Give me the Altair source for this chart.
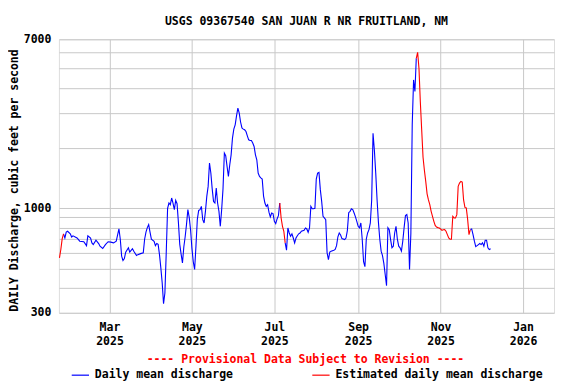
import altair as alt
import pandas as pd

FONT = "DejaVu Sans Mono"
START = "2025-01-23"

# day offsets from START and daily mean discharge (cfs)
day_offset = [0, 1, 2, 3, 4, 5, 6, 8, 9, 10, 13, 15, 18, 20, 21, 23, 24, 25, 27, 29,
              30, 32, 34, 36, 38, 40, 42, 44, 45, 46, 47, 48, 49, 51, 52, 54, 55, 57, 58, 60,
              62, 63, 64, 65, 66, 67, 68, 70, 71, 72, 73, 74, 75, 76, 77, 78, 79, 80, 81, 82,
              83, 84, 85, 86, 87, 88, 89, 90, 91, 92, 93, 94, 95, 96, 97, 98, 99, 100, 101, 102,
              103, 104, 105, 106, 107, 108, 109, 110, 111, 112, 113, 114, 115, 116, 117, 118, 119, 120, 121, 122,
              123, 124, 125, 126, 127, 128, 129, 130, 131, 132, 133, 134, 135, 136, 137, 138, 139, 140, 141, 142,
              143, 144, 145, 146, 147, 148, 149, 150, 151, 152, 153, 154, 155, 156, 157, 158, 159, 160, 161, 162,
              163, 164, 165, 166, 167, 168, 169, 170, 171, 172, 173, 174, 175, 176, 177, 178, 179, 181, 182, 183,
              184, 185, 186, 187, 188, 189, 190, 191, 192, 193, 194, 195, 196, 197, 198, 199, 200, 201, 203, 204,
              205, 206, 207, 208, 209, 211, 212, 213, 214, 215, 216, 217, 218, 219, 220, 221, 222, 223, 224, 225,
              226, 227, 228, 229, 230, 231, 232, 233, 234, 235, 236, 237, 238, 239, 240, 241, 242, 243, 244, 245,
              246, 247, 248, 249, 250, 251, 252, 253, 254, 255, 256, 257, 258, 259, 260, 261, 262, 263, 264, 265,
              266, 267, 268, 269, 270, 271, 272, 273, 274, 275, 276, 277, 278, 279, 280, 281, 282, 283, 284, 285,
              286, 287, 288, 289, 290, 291, 292, 293, 294, 295, 296, 297, 298, 299, 300, 301, 302, 303, 304, 305,
              306, 307, 308, 309, 310, 311, 312, 313, 314, 315, 316, 317, 318, 319]

discharge_cfs = [565, 622, 703, 745, 710, 760, 767, 745, 718, 728, 710, 684, 680, 650, 728, 710, 671, 658, 692, 666,
                 646, 629, 658, 680, 677, 671, 684, 788, 700, 576, 548, 560, 603, 634, 603, 627, 610, 580, 586, 593,
                 598, 700, 760, 800, 828, 760, 700, 684, 650, 666, 660, 586, 503, 424, 333, 377, 600, 1000, 1062, 1042,
                 1125, 1062, 984, 1095, 1054, 850, 660, 590, 533, 640, 720, 830, 984, 900, 780, 630, 540, 494, 650, 880,
                 975, 984, 1022, 877, 844, 965, 1147, 1286, 1683, 1500, 1250, 1080, 1062, 1263, 1062, 965, 812, 984, 1250, 1887,
                 1830, 1620, 1443, 1650, 1850, 2242, 2487, 2613, 2898, 3165, 2987, 2700, 2520, 2487, 2468, 2421, 2303, 2199, 2180, 2180,
                 2118, 2037, 1851, 1748, 1500, 1443, 1420, 1400, 1150, 1062, 1022, 1042, 956, 905, 947, 940, 860, 838, 884, 918,
                 1062, 894, 812, 767, 671, 617, 797, 752, 724, 745, 710, 671, 710, 728, 745, 752, 767, 776, 797, 788,
                 758, 797, 1022, 995, 995, 1000, 1400, 1500, 1511, 1239, 1082, 911, 894, 877, 600, 554, 603, 610, 617, 622,
                 650, 720, 752, 735, 705, 697, 710, 773, 950, 965, 993, 984, 947, 905, 860, 812, 797, 844, 700, 540,
                 510, 700, 752, 782, 844, 1100, 2374, 1950, 1500, 1100, 850, 700, 610, 580, 530, 466, 410, 800, 782, 697,
                 634, 646, 752, 812, 700, 646, 634, 610, 684, 800, 920, 930, 844, 494, 750, 2613, 4383, 3835, 5624, 6025,
                 5000, 3400, 2468, 1800, 1550, 1362, 1180, 1100, 1042, 965, 911, 860, 820, 805, 800, 797, 788, 776, 780, 782,
                 767, 738, 710, 700, 700, 911, 894, 894, 929, 1286, 1337, 1362, 1352, 1100, 1010, 1003, 880, 738, 782, 788,
                 738, 684, 643, 650, 658, 666, 658, 671, 646, 692, 692, 634, 622, 627]

# inclusive day-offset ranges of each stretch (shared end points join them)
measured_ranges = [(3, 163), (167, 264), (304, 319)]
estimated_ranges = [(0, 3), (163, 167), (264, 304)]

series_names = ["Daily mean discharge", "Estimated daily mean discharge"]
series_colors = ["#0000ff", "#ff0000"]

x_domain = ["2025-01-22T14:00:00", "2026-01-23T22:00:00"]
month_ticks = [(2025, 3), (2025, 5), (2025, 7), (2025, 9), (2025, 11), (2026, 1)]
y_ticks = [300, 400, 500, 600, 700, 800, 900, 1000, 2000, 3000, 4000, 5000, 6000, 7000]

title_text = "USGS 09367540 SAN JUAN R NR FRUITLAND, NM"
y_title = "DAILY Discharge, cubic feet per second"
note_text = "---- Provisional Data Subject to Revision ----"

start = pd.Timestamp(START)
dates = [(start + pd.Timedelta(days=d)).strftime("%Y-%m-%dT00:00:00") for d in day_offset]
df = pd.DataFrame({"date": dates, "flow": discharge_cfs, "day": day_offset})

parts = []
for name, ranges in ((series_names[0], measured_ranges), (series_names[1], estimated_ranges)):
    for i, (a, b) in enumerate(ranges):
        part = df[(df["day"] >= a) & (df["day"] <= b)].copy()
        part["seg"] = f"{name}-{i}"
        part["kind"] = name
        parts.append(part)
lines_df = pd.concat(parts)

color = alt.Color(
    "kind:N",
    scale=alt.Scale(domain=series_names, range=series_colors),
    legend=alt.Legend(
        title=None, orient="none", legendX=12, legendY=327, direction="horizontal",
        columns=2, columnPadding=76, symbolType="stroke", symbolSize=300,
        symbolStrokeWidth=1.2, labelFont=FONT, labelFontSize=11.5, labelFontWeight="bold",
        labelColor="black", labelLimit=400, labelOffset=5, padding=0,
    ),
)

x_enc = alt.X(
    "date:T",
    scale=alt.Scale(domain=x_domain),
    axis=alt.Axis(
        values=[alt.DateTime(year=y, month=m, date=1) for y, m in month_ticks],
        labelExpr="[timeFormat(datum.value, '%b'), timeFormat(datum.value, '%Y')]",
        labelLineHeight=14, labelPadding=9, grid=True, ticks=False, domain=False,
        title=None, labelFont=FONT, labelFontSize=11.5, labelFontWeight="bold",
        labelColor="black", gridColor="#c8c8c8", gridWidth=1, labelFlush=False,
    ),
)
y_enc = alt.Y(
    "flow:Q",
    scale=alt.Scale(type="log", domain=[300, 7000], nice=False),
    axis=alt.Axis(
        values=y_ticks,
        labelExpr="(datum.value == 300 || datum.value == 1000 || datum.value == 7000) ? format(datum.value, 'd') : ''",
        grid=True, ticks=False, domain=False, labelPadding=8,
        labelFont=FONT, labelFontSize=11.5, labelFontWeight="bold", labelColor="black",
        gridColor="#c8c8c8", gridWidth=1,
        title=y_title, titleFont=FONT, titleFontSize=11.5, titleFontWeight="bold",
        titleColor="black", titleX=-44, titleY=141, titleAngle=270,
        titleAlign="center", titleBaseline="middle",
    ),
)

lines = alt.Chart(lines_df).mark_line(strokeWidth=1.1).encode(
    x=x_enc, y=y_enc, color=color, detail="seg:N"
)
note = alt.Chart(pd.DataFrame({"t": [note_text]})).mark_text(
    font=FONT, fontSize=11.5, fontWeight="bold", color="#ff0000", align="center", baseline="middle"
).encode(x=alt.value(247), y=alt.value(321), text="t:N")

chart = alt.layer(lines, note).properties(
    width=496, height=274,
    title=alt.TitleParams(title_text, font=FONT, fontSize=11.5, fontWeight="bold",
                          anchor="middle", offset=6, color="black"),
    autosize=alt.AutoSizeParams(type="none"),
    padding={"left": 51, "top": 31, "right": 14, "bottom": 68},
).configure_view(stroke="black", strokeWidth=1).configure(background="white")

chart.save("out.html", embed_options={"renderer": "svg", "actions": False})
